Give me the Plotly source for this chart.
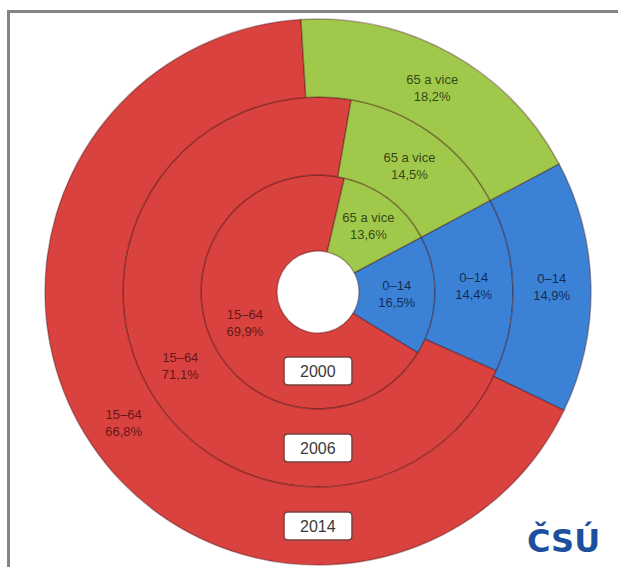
import plotly.graph_objects as go

# Age structure of the population (share of each age group, %)
categories = ["0–14", "15–64", "65 a vice"]
years = ["2000", "2006", "2014"]
shares_2000 = [16.5, 69.9, 13.6]
shares_2006 = [14.4, 71.1, 14.5]
shares_2014 = [14.9, 66.8, 18.2]

series = [shares_2000, shares_2006, shares_2014]
colors = ["#3b82d6", "#d9423f", "#a0c94b"]
text_colors = ["rgba(10,25,60,0.85)", "rgba(70,10,10,0.8)", "rgba(30,45,10,0.85)"]

W, H = 618, 567
cx, cy = 318, 292            # centre of the rings, px
hole_r = 41
ring_r = [117, 195, 273]     # outer radius of each ring, px

fig = go.Figure()

inner = hole_r
for yr, vals, r_out in zip(years, series, ring_r):
    fig.add_trace(go.Pie(
        labels=categories,
        values=vals,
        name=yr,
        sort=False,
        direction="clockwise",
        rotation=62,
        hole=inner / r_out,
        domain=dict(x=[(cx - r_out) / W, (cx + r_out) / W],
                    y=[1 - (cy + r_out) / H, 1 - (cy - r_out) / H]),
        marker=dict(colors=colors, line=dict(color="rgba(60,10,10,0.35)", width=1.5)),
        textinfo="text",
        texttemplate="%{label}<br>%{value:.1f}%",
        textposition="inside",
        insidetextorientation="horizontal",
        textfont=dict(family="Liberation Sans, Arial, sans-serif", size=13, color=text_colors),
        hoverinfo="label+value",
        showlegend=False,
    ))
    inner = r_out


def px(x):
    return x / W


def py(y):
    return 1 - y / H


# year badges at the bottom of every ring
shapes = []
annotations = []
bw, bh, rad = 68, 28, 4
inner = hole_r
for yr, r_out in zip(years, ring_r):
    mid = (inner + r_out) / 2
    x0, x1 = cx - bw / 2, cx + bw / 2
    y0, y1 = cy + mid - bh / 2, cy + mid + bh / 2
    path = (f"M {px(x0 + rad)},{py(y0)} L {px(x1 - rad)},{py(y0)} "
            f"Q {px(x1)},{py(y0)} {px(x1)},{py(y0 + rad)} L {px(x1)},{py(y1 - rad)} "
            f"Q {px(x1)},{py(y1)} {px(x1 - rad)},{py(y1)} L {px(x0 + rad)},{py(y1)} "
            f"Q {px(x0)},{py(y1)} {px(x0)},{py(y1 - rad)} L {px(x0)},{py(y0 + rad)} "
            f"Q {px(x0)},{py(y0)} {px(x0 + rad)},{py(y0)} Z")
    shapes.append(dict(type="path", xref="paper", yref="paper", path=path,
                       fillcolor="white", line=dict(color="#7a4040", width=1.5)))
    annotations.append(dict(x=px(cx), y=py(cy + mid), xref="paper", yref="paper",
                            xanchor="center", yanchor="middle",
                            text=yr, showarrow=False,
                            font=dict(family="Liberation Sans, Arial, sans-serif", size=16, color="#3a3a3a")))
    inner = r_out

# frame
shapes.append(dict(type="rect", xref="paper", yref="paper",
                   x0=px(8.5), x1=px(630), y0=-0.05, y1=py(11.5),
                   line=dict(color="#858585", width=3), fillcolor="rgba(0,0,0,0)", layer="above"))

# logo
annotations.append(dict(x=px(563), y=py(540), xref="paper", yref="paper",
                        xanchor="center", yanchor="middle",
                        text="<b>ČSÚ</b>", showarrow=False,
                        font=dict(family="DejaVu Sans, sans-serif", size=32, color="#1d4f9e")))

fig.update_layout(
    width=W, height=H,
    margin=dict(l=0, r=0, t=0, b=0),
    paper_bgcolor="white",
    plot_bgcolor="white",
    separators=", ",
    uniformtext=dict(minsize=13, mode="show"),
    shapes=shapes,
    annotations=annotations,
)

fig.write_html("out.html")
